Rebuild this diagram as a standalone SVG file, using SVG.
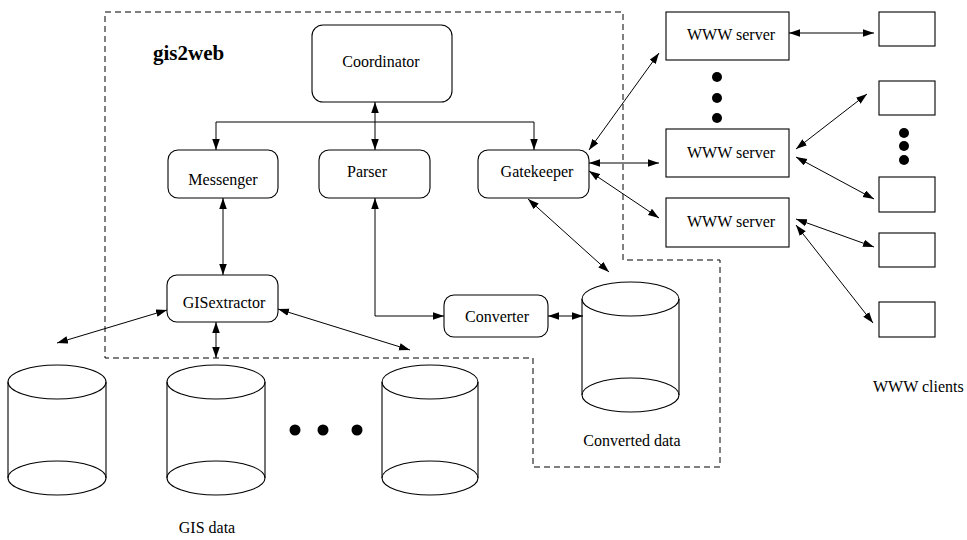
<svg xmlns="http://www.w3.org/2000/svg" width="967" height="540" viewBox="0 0 967 540">
<defs>
<marker id="ah" markerUnits="userSpaceOnUse" markerWidth="12" markerHeight="8" refX="11" refY="3.75" orient="auto-start-reverse">
<path d="M0,0 L11,3.75 L0,7.5 z" fill="#000"/>
</marker>
<style>
.box{fill:#fff;stroke:#000;stroke-width:1.1}
.t{font-family:"Liberation Serif","Times New Roman",serif;font-size:16px;fill:#000}
.c{stroke:#000;stroke-width:1;fill:none}
.a2{marker-start:url(#ah);marker-end:url(#ah)}
.a1{marker-end:url(#ah)}
.dash{fill:none;stroke:#000;stroke-width:1;stroke-dasharray:6,4}
.cyl{fill:none;stroke:#000;stroke-width:1.1}
.dot{fill:#000}
</style>
</defs>
<rect width="967" height="540" fill="#fff"/>

<path class="dash" d="M105,12 H623 V260 H720 V467 H533 V358 H105 Z"/>
<text class="t" x="153" y="60" style="font-weight:bold;font-size:21px">gis2web</text>

<g id="connectors">
<path class="c a1" d="M375,122 H216 V150"/>
<path class="c a1" d="M375,122 H534 V150"/>
<line class="c a2" x1="375" y1="102" x2="375" y2="150"/>
<line class="c a2" x1="223" y1="198" x2="223" y2="275"/>
<path class="c a2" d="M375,198 V316 H444"/>
<line class="c a2" x1="216" y1="322" x2="216" y2="358"/>
<line class="c a2" x1="167" y1="310" x2="57" y2="343"/>
<line class="c a2" x1="278" y1="309" x2="410" y2="350"/>
<line class="c a2" x1="548" y1="316" x2="583" y2="316"/>
<line class="c a2" x1="528" y1="199" x2="609" y2="272"/>
<line class="c a2" x1="589" y1="150" x2="659" y2="53"/>
<line class="c a2" x1="589" y1="163" x2="659" y2="163"/>
<line class="c a2" x1="589" y1="171" x2="659" y2="218"/>
<line class="c a2" x1="789" y1="33" x2="874" y2="33"/>
<line class="c a2" x1="796" y1="149" x2="867" y2="94"/>
<line class="c a2" x1="796" y1="157" x2="874" y2="199"/>
<line class="c a2" x1="796" y1="219" x2="874" y2="247"/>
<line class="c a2" x1="796" y1="225" x2="873" y2="323"/>
</g>

<g id="coordinator"><rect class="box" x="312" y="25" width="140" height="77" rx="11"/><text class="t" x="381" y="67" text-anchor="middle">Coordinator</text></g>
<g id="messenger"><rect class="box" x="168" y="150" width="110" height="48" rx="10"/><text class="t" x="223" y="185" text-anchor="middle">Messenger</text></g>
<g id="parser"><rect class="box" x="319" y="150" width="111" height="48" rx="10"/><text class="t" x="367" y="177" text-anchor="middle">Parser</text></g>
<g id="gatekeeper"><rect class="box" x="478" y="150" width="111" height="48" rx="10"/><text class="t" x="537" y="177" text-anchor="middle">Gatekeeper</text></g>
<g id="gisextractor"><rect class="box" x="167" y="275" width="111" height="47" rx="10"/><text class="t" x="224" y="308" text-anchor="middle">GISextractor</text></g>
<g id="converter"><rect class="box" x="444" y="295" width="104" height="42" rx="10"/><text class="t" x="497" y="322" text-anchor="middle">Converter</text></g>

<g id="converted-data">
<ellipse class="cyl" cx="630.5" cy="299" rx="48.5" ry="17"/>
<line class="cyl" x1="582" y1="299" x2="582" y2="395"/><line class="cyl" x1="679" y1="299" x2="679" y2="395"/>
<ellipse class="cyl" cx="630.5" cy="395" rx="48.5" ry="17"/>
<text class="t" x="632" y="446" text-anchor="middle">Converted data</text>
</g>

<g id="gis-data">
<ellipse class="cyl" cx="57" cy="382" rx="49" ry="17"/>
<line class="cyl" x1="8" y1="382" x2="8" y2="478"/><line class="cyl" x1="106" y1="382" x2="106" y2="478"/>
<ellipse class="cyl" cx="57" cy="478" rx="49" ry="17"/>
<ellipse class="cyl" cx="216" cy="382" rx="49" ry="17"/>
<line class="cyl" x1="167" y1="382" x2="167" y2="478"/><line class="cyl" x1="265" y1="382" x2="265" y2="478"/>
<ellipse class="cyl" cx="216" cy="478" rx="49" ry="17"/>
<ellipse class="cyl" cx="430" cy="382" rx="48" ry="17"/>
<line class="cyl" x1="382" y1="382" x2="382" y2="478"/><line class="cyl" x1="478" y1="382" x2="478" y2="478"/>
<ellipse class="cyl" cx="430" cy="478" rx="48" ry="17"/>
<circle class="dot" cx="295" cy="430" r="5.5"/><circle class="dot" cx="323" cy="430" r="5.5"/><circle class="dot" cx="357" cy="430" r="5.5"/>
<text class="t" x="207" y="533" text-anchor="middle">GIS data</text>
</g>

<g id="www-server-1"><rect class="box" x="666" y="12" width="123" height="48"/><text class="t" x="687" y="40">WWW server</text></g>
<g id="www-server-2"><rect class="box" x="666" y="129" width="123" height="48"/><text class="t" x="687" y="158">WWW server</text></g>
<g id="www-server-3"><rect class="box" x="666" y="198" width="123" height="49"/><text class="t" x="687" y="227">WWW server</text></g>
<circle class="dot" cx="717" cy="77" r="5"/><circle class="dot" cx="717" cy="98" r="5"/><circle class="dot" cx="717" cy="118" r="5"/>

<g id="client-1"><rect class="box" x="879" y="12" width="56" height="34"/></g>
<g id="client-2"><rect class="box" x="879" y="81" width="56" height="34"/></g>
<g id="client-3"><rect class="box" x="879" y="177" width="56" height="35"/></g>
<g id="client-4"><rect class="box" x="879" y="233" width="56" height="34"/></g>
<g id="client-5"><rect class="box" x="879" y="302" width="56" height="35"/></g>
<circle class="dot" cx="904" cy="133" r="5"/><circle class="dot" cx="904" cy="146" r="5"/><circle class="dot" cx="904" cy="160" r="5"/>
<text class="t" x="873" y="392">WWW clients</text>
</svg>
